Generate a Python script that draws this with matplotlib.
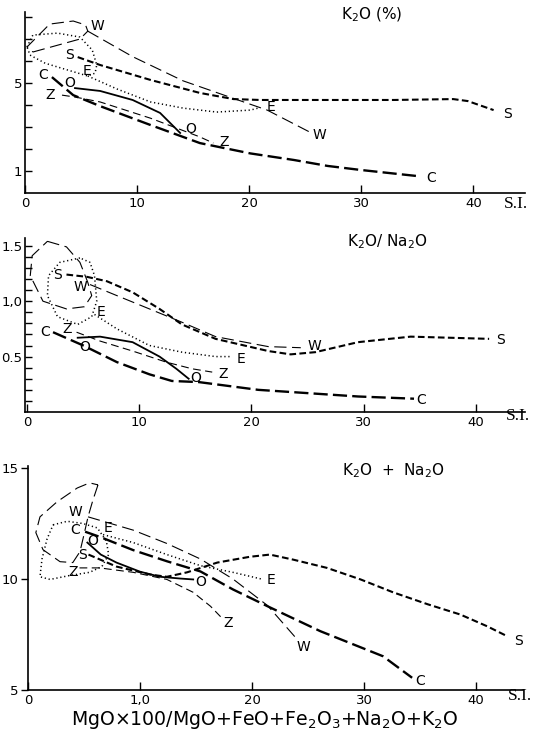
import matplotlib
matplotlib.use("Agg")
import matplotlib.pyplot as plt

W_PX, H_PX = 538, 741

# ---------------- data: panel 1  K2O (%) ----------------
k_C_x = [2.4, 4.3, 6.7, 11.2, 15.6, 20.1, 24.0, 27.0, 29.9, 35.0]
k_C_y = [5.27, 4.45, 3.95, 3.09, 2.27, 1.80, 1.50, 1.23, 1.05, 0.77]
k_Z_x = [3.3, 4.5, 6.7, 11.2, 15.6, 16.8]
k_Z_y = [4.45, 4.36, 4.14, 3.40, 2.55, 2.27]
k_O_x = [4.46, 6.7, 9.6, 12.05, 13.84]
k_O_y = [4.77, 4.64, 4.23, 3.64, 2.73]
k_S_x = [4.7, 6.7, 11.2, 15.6, 18.6, 21.0, 27.0, 32.9, 38.2, 39.5, 41.8]
k_S_y = [6.18, 5.82, 5.14, 4.55, 4.27, 4.23, 4.23, 4.23, 4.27, 4.18, 3.77]
k_Wloop_x = [0.7, 4.9, 5.6, 5.4, 4.3, 2.2, 0.18, 0.7]
k_Wloop_y = [6.41, 7.0, 7.36, 7.64, 7.82, 7.68, 6.64, 6.41]
k_W_x = [5.6, 9.6, 14.1, 18.6, 21.6, 25.4]
k_W_y = [7.36, 6.2, 5.1, 4.3, 3.77, 2.77]
k_Eloop_x = [0.18, 0.7, 2.9, 4.9, 6.0, 6.4, 6.25, 5.6, 3.75, 1.8, 0.45, 0.18]
k_Eloop_y = [6.64, 7.18, 7.27, 7.09, 6.5, 5.82, 5.45, 5.32, 5.6, 5.9, 6.27, 6.64]
k_E_x = [5.6, 8.2, 11.2, 14.1, 17.1, 20.1, 20.8]
k_E_y = [5.32, 4.73, 4.14, 3.86, 3.68, 3.77, 3.86]

# ---------------- data: panel 2  K2O / Na2O ----------------
r_C_x = [2.3, 5.0, 8.0, 10.9, 12.9, 15.3, 20.6, 29.5, 34.5]
r_C_y = [0.72, 0.60, 0.45, 0.34, 0.28, 0.27, 0.20, 0.14, 0.12]
r_Z_x = [4.4, 6.5, 9.4, 12.4, 14.7, 16.5]
r_Z_y = [0.72, 0.64, 0.55, 0.45, 0.39, 0.36]
r_O_x = [4.5, 6.5, 9.4, 11.8, 13.3, 14.4]
r_O_y = [0.67, 0.68, 0.63, 0.50, 0.39, 0.30]
r_S_x = [3.5, 5.3, 7.1, 9.4, 11.8, 13.8, 16.8, 21.5, 23.5, 25.7, 29.5, 34.2, 41.2]
r_S_y = [1.24, 1.22, 1.18, 1.08, 0.93, 0.79, 0.66, 0.55, 0.52, 0.54, 0.63, 0.68, 0.66]
r_Wloop_x = [1.8, 3.5, 4.7, 5.4, 5.75, 5.1, 3.5, 1.4, 0.27, 0.44, 1.8]
r_Wloop_y = [1.54, 1.49, 1.35, 1.17, 1.05, 0.95, 0.93, 1.0, 1.23, 1.41, 1.54]
r_W_x = [5.6, 8.0, 10.9, 13.8, 16.8, 21.5, 24.4]
r_W_y = [1.15, 1.05, 0.93, 0.81, 0.68, 0.59, 0.58]
r_Eloop_x = [4.7, 2.9, 1.9, 1.8, 2.7, 4.5, 5.75, 6.2, 6.0, 5.6, 4.7]
r_Eloop_y = [1.39, 1.35, 1.23, 1.05, 0.86, 0.79, 0.86, 1.0, 1.23, 1.35, 1.39]
r_E_x = [6.0, 8.0, 10.9, 13.8, 16.8, 18.2]
r_E_y = [0.88, 0.75, 0.60, 0.54, 0.50, 0.50]

# ---------------- data: panel 3  K2O + Na2O ----------------
s_C_x = [5.1, 6.4, 9.4, 12.4, 15.4, 18.3, 21.4, 26.1, 31.7, 34.3]
s_C_y = [12.13, 11.9, 11.3, 10.8, 10.34, 9.53, 8.77, 7.65, 6.52, 5.55]
s_Z_x = [4.6, 6.4, 9.4, 12.4, 14.75, 16.3, 17.2]
s_Z_y = [10.5, 10.5, 10.3, 9.98, 9.4, 8.77, 8.3]
s_O_x = [5.3, 6.5, 7.9, 10.0, 11.8, 13.6, 14.75]
s_O_y = [11.64, 11.1, 10.74, 10.33, 10.1, 10.02, 9.98]
s_S_x = [5.4, 7.9, 10.9, 12.4, 14.2, 16.9, 19.8, 21.6, 23.7, 26.7, 29.7, 32.6, 35.7, 38.6, 41.0, 42.8]
s_S_y = [11.1, 10.56, 10.2, 10.1, 10.3, 10.74, 11.0, 11.1, 10.87, 10.5, 9.98, 9.4, 8.86, 8.4, 7.87, 7.42]
s_Wloop_x = [6.25, 5.8, 5.36, 5.0, 4.64, 4.0, 2.86, 1.34, 0.7, 1.07, 2.6, 4.4, 5.5, 6.25]
s_Wloop_y = [14.24, 13.56, 12.8, 12.0, 11.23, 10.74, 10.78, 11.32, 12.09, 12.8, 13.48, 14.1, 14.33, 14.24]
s_W_x = [5.36, 9.4, 12.4, 15.4, 18.3, 21.4, 24.0]
s_W_y = [12.8, 12.2, 11.6, 10.9, 10.0, 8.8, 7.3]
s_Eloop_x = [2.24, 3.5, 4.9, 6.2, 7.0, 7.2, 6.6, 5.5, 3.75, 1.97, 1.07, 1.25, 1.7, 2.24]
s_Eloop_y = [12.44, 12.6, 12.5, 12.3, 11.7, 11.1, 10.56, 10.3, 10.16, 9.98, 10.1, 10.9, 11.8, 12.44]
s_E_x = [6.7, 9.4, 12.4, 15.4, 18.3, 21.0]
s_E_y = [12.0, 11.64, 11.1, 10.6, 10.3, 9.98]

x_ticks = [0, 10, 20, 30, 40]

# ---------------- styles ----------------
STY = {
    "C": dict(color="black", lw=1.7, linestyle=(0, (6, 2.2))),
    "S": dict(color="black", lw=1.5, linestyle=(0, (3.2, 1.6))),
    "W": dict(color="black", lw=0.8, linestyle=(0, (11, 5))),
    "Z": dict(color="black", lw=0.8, linestyle=(0, (7, 4))),
    "E": dict(color="black", lw=1.1, linestyle=(0, (0.8, 1.8))),
    "O": dict(color="black", lw=1.3, linestyle="-"),
}

fig = plt.figure(figsize=(W_PX / 100, H_PX / 100), dpi=100)


def add_axes_px(left, top, right, bottom):
    return fig.add_axes([left / W_PX, 1 - bottom / H_PX,
                         (right - left) / W_PX, (bottom - top) / H_PX])


def style_axes(ax, xlim, ylim, yticks, ylabels, xlabels, ydir="in"):
    ax.set_xlim(*xlim)
    ax.set_ylim(*ylim)
    for s in ("top", "right"):
        ax.spines[s].set_visible(False)
    for s in ("left", "bottom"):
        ax.spines[s].set_linewidth(1.2)
    ax.set_xticks(x_ticks)
    ax.set_xticklabels(xlabels, fontsize=9.5)
    ax.set_yticks(yticks)
    ax.set_yticklabels(ylabels, fontsize=9.5)
    ax.tick_params(axis="x", direction="in", length=6, width=1.0, pad=3)
    ax.tick_params(axis="y", direction=ydir, length=5, width=1.0, pad=2)
    ax.patch.set_alpha(0)


def lbl(ax, x, y, t, **kw):
    ax.text(x, y, t, fontsize=10, ha="center", va="center", **kw)


# ---------------- panel 1 ----------------
ax1 = add_axes_px(25, 12, 525, 193)
ax1.plot(k_Wloop_x, k_Wloop_y, **STY["W"])
ax1.plot(k_W_x, k_W_y, **STY["W"])
ax1.plot(k_Eloop_x, k_Eloop_y, **STY["E"])
ax1.plot(k_E_x, k_E_y, **STY["E"])
ax1.plot(k_S_x, k_S_y, **STY["S"])
ax1.plot(k_C_x, k_C_y, **STY["C"])
ax1.plot(k_Z_x, k_Z_y, **STY["Z"])
ax1.plot(k_O_x, k_O_y, **STY["O"])
style_axes(ax1, (0, 44.6), (0, 8.23), list(range(1, 9)),
           ["1", "", "", "", "5", "", "", ""], ["0", "10", "20", "30", "40"])
for x, y, t in [(6.5, 7.6, "W"), (26.3, 2.65, "W"), (4.0, 6.27, "S"), (43.0, 3.6, "S"),
                (5.5, 5.55, "E"), (21.9, 3.9, "E"), (1.6, 5.36, "C"), (36.2, 0.7, "C"),
                (2.2, 4.45, "Z"), (17.8, 2.3, "Z"), (4.0, 5.0, "O"), (14.8, 2.9, "O")]:
    lbl(ax1, x, y, t)
ax1.text(372 / W_PX, 1 - 15 / H_PX, r"K$_2$O (%)", transform=fig.transFigure,
         fontsize=11, ha="center", va="center")

# ---------------- panel 2 ----------------
ax2 = add_axes_px(25, 238, 525, 412)
ax2.plot(r_Wloop_x, r_Wloop_y, **STY["W"])
ax2.plot(r_W_x, r_W_y, **STY["W"])
ax2.plot(r_Eloop_x, r_Eloop_y, **STY["E"])
ax2.plot(r_E_x, r_E_y, **STY["E"])
ax2.plot(r_S_x, r_S_y, **STY["S"])
ax2.plot(r_C_x, r_C_y, **STY["C"])
ax2.plot(r_Z_x, r_Z_y, **STY["Z"])
ax2.plot(r_O_x, r_O_y, **STY["O"])
yt2 = [round(0.1 * i, 1) for i in range(1, 16)]
yl2 = ["" for _ in yt2]
yl2[4], yl2[9], yl2[14] = "0.5", "1,0", "1.5"
style_axes(ax2, (-0.2, 44.4), (0, 1.57), yt2, yl2, ["0", "10", "20", "30", "40"])
for x, y, t in [(2.7, 1.24, "S"), (42.2, 0.65, "S"), (4.7, 1.13, "W"), (25.6, 0.6, "W"),
                (6.6, 0.9, "E"), (19.1, 0.48, "E"), (1.6, 0.72, "C"), (35.1, 0.11, "C"),
                (3.6, 0.75, "Z"), (17.5, 0.34, "Z"), (5.1, 0.59, "O"), (15.0, 0.31, "O")]:
    lbl(ax2, x, y, t)
ax2.text(387 / W_PX, 1 - 242 / H_PX, r"K$_2$O/ Na$_2$O", transform=fig.transFigure,
         fontsize=11, ha="center", va="center")

# ---------------- panel 3 ----------------
ax3 = add_axes_px(28, 466, 523, 690)
ax3.plot(s_Wloop_x, s_Wloop_y, **STY["W"])
ax3.plot(s_W_x, s_W_y, **STY["W"])
ax3.plot(s_Eloop_x, s_Eloop_y, **STY["E"])
ax3.plot(s_E_x, s_E_y, **STY["E"])
ax3.plot(s_S_x, s_S_y, **STY["S"])
ax3.plot(s_C_x, s_C_y, **STY["C"])
ax3.plot(s_Z_x, s_Z_y, **STY["Z"])
ax3.plot(s_O_x, s_O_y, **STY["O"])
style_axes(ax3, (0, 44.2), (5, 15.09), [5, 10, 15], ["5", "10", "15"],
           ["0", "1,0", "20", "30", "40"], ydir="out")
for x, y, t in [(4.2, 13.0, "W"), (24.6, 6.95, "W"), (4.2, 12.2, "C"), (35.0, 5.4, "C"),
                (7.1, 12.3, "E"), (21.7, 9.95, "E"), (5.8, 11.7, "O"), (15.4, 9.85, "O"),
                (4.9, 11.1, "S"), (43.8, 7.2, "S"), (4.0, 10.3, "Z"), (17.9, 8.0, "Z")]:
    lbl(ax3, x, y, t)
ax3.text(393 / W_PX, 1 - 471 / H_PX, r"K$_2$O  +  Na$_2$O", transform=fig.transFigure,
         fontsize=11, ha="center", va="center")

# S.I. labels
for xp, yp in ((516, 204), (518, 416), (520, 696)):
    fig.text(xp / W_PX, 1 - yp / H_PX, "S.I.", fontsize=12.5, ha="center", va="center",
             family="Liberation Serif")

fig.text(265 / W_PX, 1 - 720 / H_PX,
         r"MgO$\times$100/MgO+FeO+Fe$_2$O$_3$+Na$_2$O+K$_2$O",
         fontsize=13.6, ha="center", va="center")

fig.savefig("out.png", dpi=100)
